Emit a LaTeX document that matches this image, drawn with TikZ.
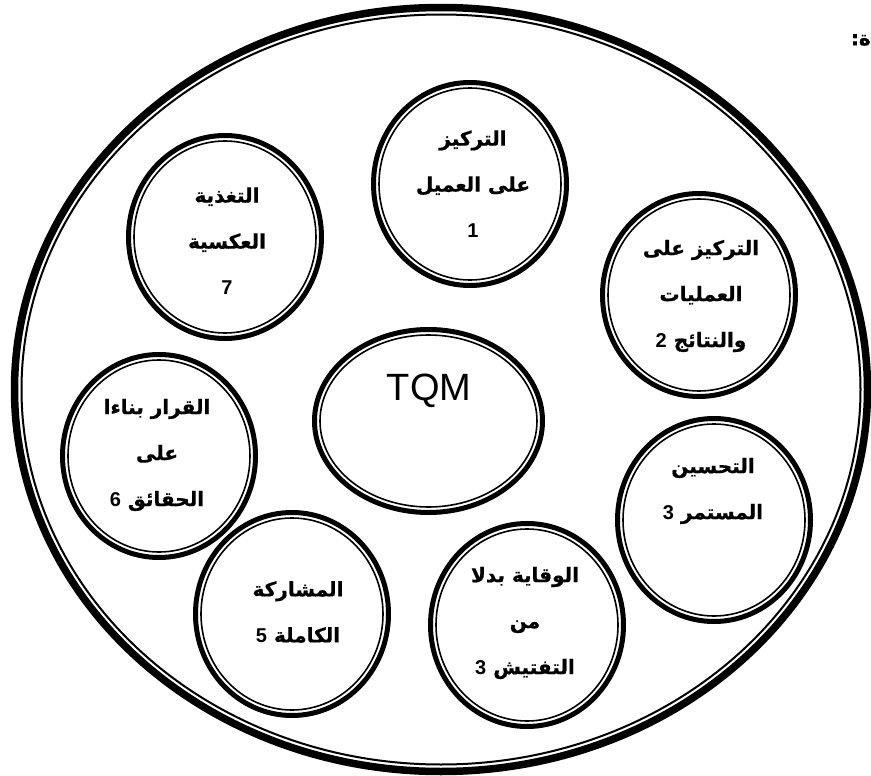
\documentclass[tikz,border=0pt]{standalone}
\usepackage{fontspec}
\setmainfont{Liberation Sans}
\newfontfamily\arfont[Script=Arabic, BoldFeatures={FakeBold=0.8}]{DejaVu Sans}
\newfontfamily\digitfont{Liberation Sans}
\TeXXeTstate=1
\usetikzlibrary{shapes.geometric}

% one right-to-left line of Arabic text
\newcommand\arline[1]{\beginR#1\endR}
% bold Latin digit inside an Arabic line
\newcommand\dg[1]{{\digitfont\bfseries\fontsize{20}{20}\selectfont#1}}

\tikzset{
  ring/.style={ellipse, draw, line width=5pt, inner sep=0pt, outer sep=0pt,
               minimum width=193pt, minimum height=203pt},
  innerring/.style={line width=1.6pt},
  lbl/.style={align=center, inner sep=0pt,
              font=\arfont\bfseries\fontsize{20}{46}\selectfont},
}

% double ring: heavy outer line, thin inner line
\newcommand\dring[3]{%
  \node[ring] (#1) at (#2,#3) {};
  \draw[innerring] (#1.center) ellipse [x radius=91pt, y radius=96pt];
}

\begin{document}
\begin{tikzpicture}[x=1pt,y=-1pt]
\useasboundingbox (0,0) rectangle (871,776);

% outer frame
\node[ellipse, draw, line width=7.5pt, inner sep=0pt, minimum width=853pt,
      minimum height=764pt] (frame) at (441,389.5) {};
\draw[line width=2pt] (frame.center) ellipse [x radius=419.5pt, y radius=375pt];

% heading end at the top right
\node[anchor=east, inner sep=0pt, font=\arfont\bfseries\fontsize{20}{20}\selectfont]
  (head) at (871,40) {\arline{ة:}};

% centre
\node[ellipse, draw, line width=5pt, inner sep=0pt, minimum width=228pt,
      minimum height=183pt] (tqm) at (428.5,421) {};
\draw[innerring] (tqm.center) ellipse [x radius=108.5pt, y radius=86pt];
\node[font=\fontsize{38}{38}\selectfont, inner sep=0pt] (tqmtext) at (429,391) {TQM};

% principles
\dring{c1}{470}{184}
\dring{c2}{699}{295}
\dring{c3}{714}{520}
\dring{c4}{527}{625}
\dring{c5}{292}{614}
\dring{c6}{159}{456}
\dring{c7}{225}{237}

\node[lbl] (t1) at (473,184) {\arline{التركيز}\\\arline{على العميل}\\\dg{1}};
\node[lbl] (t2) at (701,296) {\arline{التركيز على}\\\arline{العمليات}\\\arline{والنتائج \dg{2}}};
\node[lbl] (t3) at (713,491) {\arline{التحسين}\\\arline{المستمر \dg{3}}};
\node[lbl] (t4) at (525,623) {\arline{الوقاية بدلا}\\\arline{من}\\\arline{التفتيش \dg{3}}};
\node[lbl] (t5) at (298,612) {\arline{المشاركة}\\\arline{الكاملة \dg{5}}};
\node[lbl] (t6) at (157,455) {\arline{القرار بناءا}\\\arline{على}\\\arline{الحقائق \dg{6}}};
\node[lbl] (t7) at (227,241) {\arline{التغذية}\\\arline{العكسية}\\\dg{7}};
\end{tikzpicture}
\end{document}
